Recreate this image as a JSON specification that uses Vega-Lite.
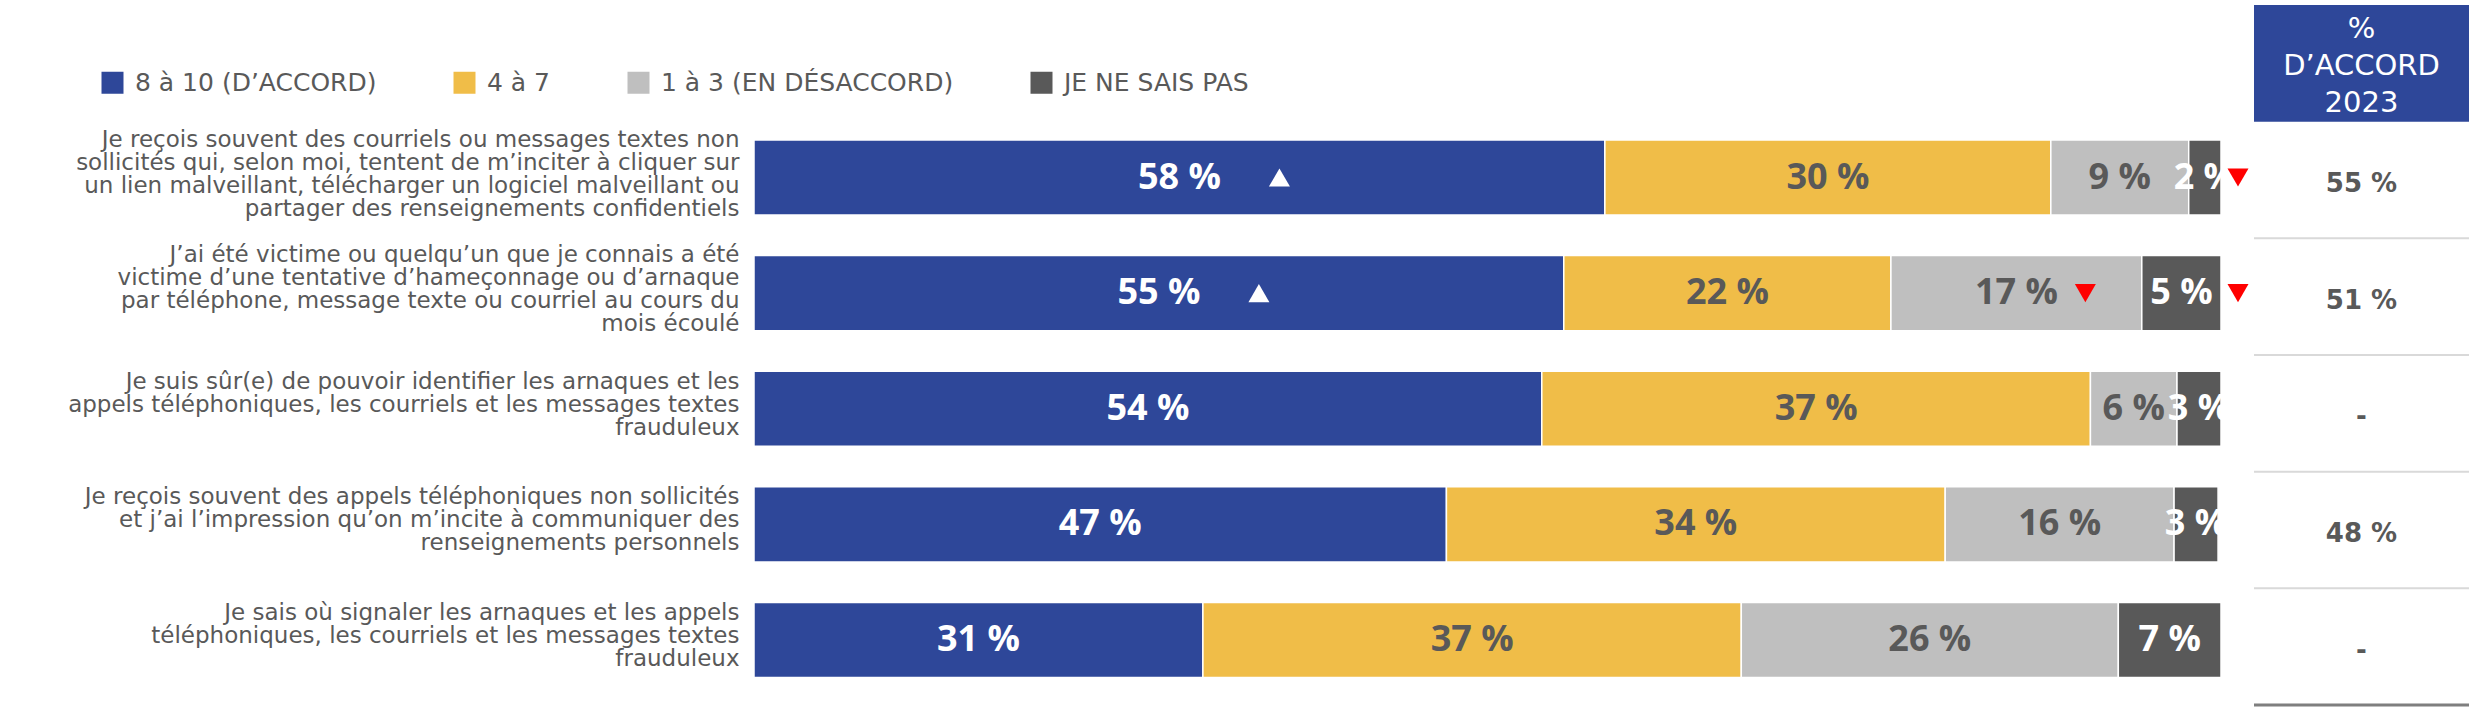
{
  "$schema": "https://vega.github.io/schema/vega-lite/v6.json",
  "width": 1715,
  "height": 700,
  "autosize": {"type": "none"},
  "padding": {"left": 754, "top": 5, "right": 6, "bottom": 10},
  "background": "white",
  "config": {"view": {"stroke": null}, "font": "DejaVu Sans"},
  "layer": [
    {
      "data": {
        "values": [
          {"q": "Je reçois souvent des courriels ou messages textes non|sollicités qui, selon moi, tentent de m’inciter à cliquer sur|un lien malveillant, télécharger un logiciel malveillant ou|partager des renseignements confidentiels", "cat": "8 à 10 (D’ACCORD)", "v": 58.0, "tri": "up"},
          {"q": "Je reçois souvent des courriels ou messages textes non|sollicités qui, selon moi, tentent de m’inciter à cliquer sur|un lien malveillant, télécharger un logiciel malveillant ou|partager des renseignements confidentiels", "cat": "4 à 7", "v": 30.4, "tri": ""},
          {"q": "Je reçois souvent des courriels ou messages textes non|sollicités qui, selon moi, tentent de m’inciter à cliquer sur|un lien malveillant, télécharger un logiciel malveillant ou|partager des renseignements confidentiels", "cat": "1 à 3 (EN DÉSACCORD)", "v": 9.4, "tri": ""},
          {"q": "Je reçois souvent des courriels ou messages textes non|sollicités qui, selon moi, tentent de m’inciter à cliquer sur|un lien malveillant, télécharger un logiciel malveillant ou|partager des renseignements confidentiels", "cat": "JE NE SAIS PAS", "v": 2.2, "tri": "down"},
          {"q": "J’ai été victime ou quelqu’un que je connais a été|victime d’une tentative d’hameçonnage ou d’arnaque|par téléphone, message texte ou courriel au cours du|mois écoulé", "cat": "8 à 10 (D’ACCORD)", "v": 55.2, "tri": "up"},
          {"q": "J’ai été victime ou quelqu’un que je connais a été|victime d’une tentative d’hameçonnage ou d’arnaque|par téléphone, message texte ou courriel au cours du|mois écoulé", "cat": "4 à 7", "v": 22.3, "tri": ""},
          {"q": "J’ai été victime ou quelqu’un que je connais a été|victime d’une tentative d’hameçonnage ou d’arnaque|par téléphone, message texte ou courriel au cours du|mois écoulé", "cat": "1 à 3 (EN DÉSACCORD)", "v": 17.1, "tri": "down"},
          {"q": "J’ai été victime ou quelqu’un que je connais a été|victime d’une tentative d’hameçonnage ou d’arnaque|par téléphone, message texte ou courriel au cours du|mois écoulé", "cat": "JE NE SAIS PAS", "v": 5.4, "tri": "down"},
          {"q": "Je suis sûr(e) de pouvoir identifier les arnaques et les|appels téléphoniques, les courriels et les messages textes|frauduleux", "cat": "8 à 10 (D’ACCORD)", "v": 53.7, "tri": ""},
          {"q": "Je suis sûr(e) de pouvoir identifier les arnaques et les|appels téléphoniques, les courriels et les messages textes|frauduleux", "cat": "4 à 7", "v": 37.4, "tri": ""},
          {"q": "Je suis sûr(e) de pouvoir identifier les arnaques et les|appels téléphoniques, les courriels et les messages textes|frauduleux", "cat": "1 à 3 (EN DÉSACCORD)", "v": 5.9, "tri": ""},
          {"q": "Je suis sûr(e) de pouvoir identifier les arnaques et les|appels téléphoniques, les courriels et les messages textes|frauduleux", "cat": "JE NE SAIS PAS", "v": 3.0, "tri": ""},
          {"q": "Je reçois souvent des appels téléphoniques non sollicités|et j’ai l’impression qu’on m’incite à communiquer des|renseignements personnels", "cat": "8 à 10 (D’ACCORD)", "v": 47.2, "tri": ""},
          {"q": "Je reçois souvent des appels téléphoniques non sollicités|et j’ai l’impression qu’on m’incite à communiquer des|renseignements personnels", "cat": "4 à 7", "v": 34.0, "tri": ""},
          {"q": "Je reçois souvent des appels téléphoniques non sollicités|et j’ai l’impression qu’on m’incite à communiquer des|renseignements personnels", "cat": "1 à 3 (EN DÉSACCORD)", "v": 15.6, "tri": ""},
          {"q": "Je reçois souvent des appels téléphoniques non sollicités|et j’ai l’impression qu’on m’incite à communiquer des|renseignements personnels", "cat": "JE NE SAIS PAS", "v": 3.0, "tri": ""},
          {"q": "Je sais où signaler les arnaques et les appels|téléphoniques, les courriels et les messages textes|frauduleux", "cat": "8 à 10 (D’ACCORD)", "v": 30.6, "tri": ""},
          {"q": "Je sais où signaler les arnaques et les appels|téléphoniques, les courriels et les messages textes|frauduleux", "cat": "4 à 7", "v": 36.7, "tri": ""},
          {"q": "Je sais où signaler les arnaques et les appels|téléphoniques, les courriels et les messages textes|frauduleux", "cat": "1 à 3 (EN DÉSACCORD)", "v": 25.7, "tri": ""},
          {"q": "Je sais où signaler les arnaques et les appels|téléphoniques, les courriels et les messages textes|frauduleux", "cat": "JE NE SAIS PAS", "v": 7.0, "tri": ""}
        ]
      },
      "transform": [
        {"calculate": "indexof(['8 à 10 (D’ACCORD)','4 à 7','1 à 3 (EN DÉSACCORD)','JE NE SAIS PAS'], datum.cat)", "as": "o"},
        {"stack": "v", "groupby": ["q"], "sort": [{"field": "o", "order": "ascending"}], "as": ["v0", "v1"]},
        {"calculate": "(datum.v0 + datum.v1) / 2", "as": "mid"},
        {"calculate": "format(datum.v, '.0f') + ' %'", "as": "lbl"}
      ],
      "encoding": {
        "y": {
          "field": "q",
          "type": "nominal",
          "sort": null,
          "title": null,
          "scale": {
            "domain": [
              "Je reçois souvent des courriels ou messages textes non|sollicités qui, selon moi, tentent de m’inciter à cliquer sur|un lien malveillant, télécharger un logiciel malveillant ou|partager des renseignements confidentiels",
              "J’ai été victime ou quelqu’un que je connais a été|victime d’une tentative d’hameçonnage ou d’arnaque|par téléphone, message texte ou courriel au cours du|mois écoulé",
              "Je suis sûr(e) de pouvoir identifier les arnaques et les|appels téléphoniques, les courriels et les messages textes|frauduleux",
              "Je reçois souvent des appels téléphoniques non sollicités|et j’ai l’impression qu’on m’incite à communiquer des|renseignements personnels",
              "Je sais où signaler les arnaques et les appels|téléphoniques, les courriels et les messages textes|frauduleux"
            ],
            "range": [114.7, 692.8],
            "paddingInner": 0.35,
            "paddingOuter": 0.175
          },
          "axis": {
            "domain": false,
            "ticks": false,
            "labelPadding": 15,
            "labelFont": "DejaVu Sans",
            "labelFontSize": 23,
            "labelColor": "#595959",
            "labelLimit": 1000,
            "labelLineHeight": 23,
            "labelAlign": "right",
            "labelBaseline": "middle",
            "labelOffset": {"condition": {"test": "length(split(datum.label, '|')) == 4", "value": -38}, "value": -27},
            "labelExpr": "split(datum.label, '|')"
          }
        }
      },
      "layer": [
        {
          "mark": {"type": "bar", "stroke": "white", "strokeWidth": 1.5},
          "encoding": {
            "x": {"field": "v0", "type": "quantitative", "scale": {"domain": [0, 100], "range": [0, 1467]}, "axis": null},
            "x2": {"field": "v1"},
            "color": {
              "field": "cat",
              "type": "nominal",
              "scale": {
                "domain": ["8 à 10 (D’ACCORD)", "4 à 7", "1 à 3 (EN DÉSACCORD)", "JE NE SAIS PAS"],
                "range": ["#2E4799", "#F0BD48", "#BFBFBF", "#595959"]
              },
              "legend": {
                "title": null,
                "orient": "none",
                "legendX": -654,
                "legendY": 65,
                "direction": "horizontal",
                "columns": 4,
                "symbolType": "square",
                "symbolSize": 484,
                "symbolStrokeWidth": 0,
                "labelFont": "DejaVu Sans",
                "labelFontSize": 25,
                "labelColor": "#595959",
                "labelOffset": 10,
                "columnPadding": 75,
                "labelLimit": 600
              }
            }
          }
        },
        {
          "mark": {"type": "text", "font": "Open Sans", "fontWeight": "bold", "fontSize": 36, "baseline": "middle"},
          "encoding": {
            "x": {"field": "mid", "type": "quantitative"},
            "text": {"field": "lbl"},
            "color": {"condition": {"test": "datum.o == 1 || datum.o == 2", "value": "#595959"}, "value": "white"}
          }
        },
        {
          "transform": [{"filter": "datum.tri == 'up'"}],
          "mark": {"type": "point", "filled": true, "shape": "triangle-up", "size": 441, "color": "white", "opacity": 1, "xOffset": 100},
          "encoding": {"x": {"field": "mid", "type": "quantitative"}}
        },
        {
          "transform": [{"filter": "datum.tri == 'down' && datum.o == 2"}],
          "mark": {"type": "point", "filled": true, "shape": "triangle-down", "size": 441, "color": "#FF0000", "opacity": 1, "xOffset": 69},
          "encoding": {"x": {"field": "mid", "type": "quantitative"}}
        },
        {
          "transform": [{"filter": "datum.tri == 'down' && datum.o == 3"}],
          "mark": {"type": "point", "filled": true, "shape": "triangle-down", "size": 441, "color": "#FF0000", "opacity": 1, "xOffset": 17},
          "encoding": {"x": {"field": "v1", "type": "quantitative"}}
        }
      ]
    },
    {
      "data": {
        "values": [
          {"row": "H", "t": "%|D’ACCORD|2023", "p": null},
          {"row": "1", "p": 55},
          {"row": "2", "p": 51},
          {"row": "3", "p": null},
          {"row": "4", "p": 48},
          {"row": "5", "p": null}
        ]
      },
      "encoding": {
        "y": {
          "field": "row",
          "type": "nominal",
          "sort": null,
          "scale": {"domain": ["H", "1", "2", "3", "4", "5"], "range": [0, 700], "paddingInner": 0, "paddingOuter": 0},
          "axis": null
        }
      },
      "layer": [
        {
          "transform": [{"filter": "datum.row == 'H'"}],
          "mark": {"type": "rect", "color": "#2E4799"},
          "encoding": {
            "x": {"datum": 0, "type": "quantitative", "scale": {"domain": [0, 1], "range": [1500, 1715]}, "axis": null},
            "x2": {"datum": 1}
          }
        },
        {
          "transform": [{"filter": "datum.row == 'H'"}],
          "mark": {"type": "text", "lineBreak": "|", "color": "white", "font": "DejaVu Sans", "fontSize": 29, "lineHeight": 37, "baseline": "middle", "yOffset": -34},
          "encoding": {"x": {"datum": 0.5, "type": "quantitative"}, "text": {"field": "t"}}
        },
        {
          "transform": [{"filter": "datum.row != 'H'"}, {"calculate": "datum.p == null ? '-' : datum.p + ' %'", "as": "t2"}],
          "mark": {"type": "text", "font": "DejaVu Sans", "fontWeight": "bold", "fontSize": 26, "color": "#595959", "baseline": "middle", "yOffset": 4},
          "encoding": {"x": {"datum": 0.5, "type": "quantitative"}, "text": {"field": "t2"}}
        },
        {
          "transform": [{"filter": "datum.row != 'H'"}],
          "mark": {"type": "rule"},
          "encoding": {
            "y": {"field": "row", "type": "nominal", "bandPosition": 1},
            "x": {"datum": 0, "type": "quantitative"},
            "x2": {"datum": 1},
            "color": {"condition": {"test": "datum.row == '5'", "value": "#7F7F7F"}, "value": "#D9D9D9"},
            "strokeWidth": {"condition": {"test": "datum.row == '5'", "value": 3}, "value": 2}
          }
        }
      ]
    }
  ],
  "resolve": {"scale": {"x": "independent", "y": "independent"}}
}
